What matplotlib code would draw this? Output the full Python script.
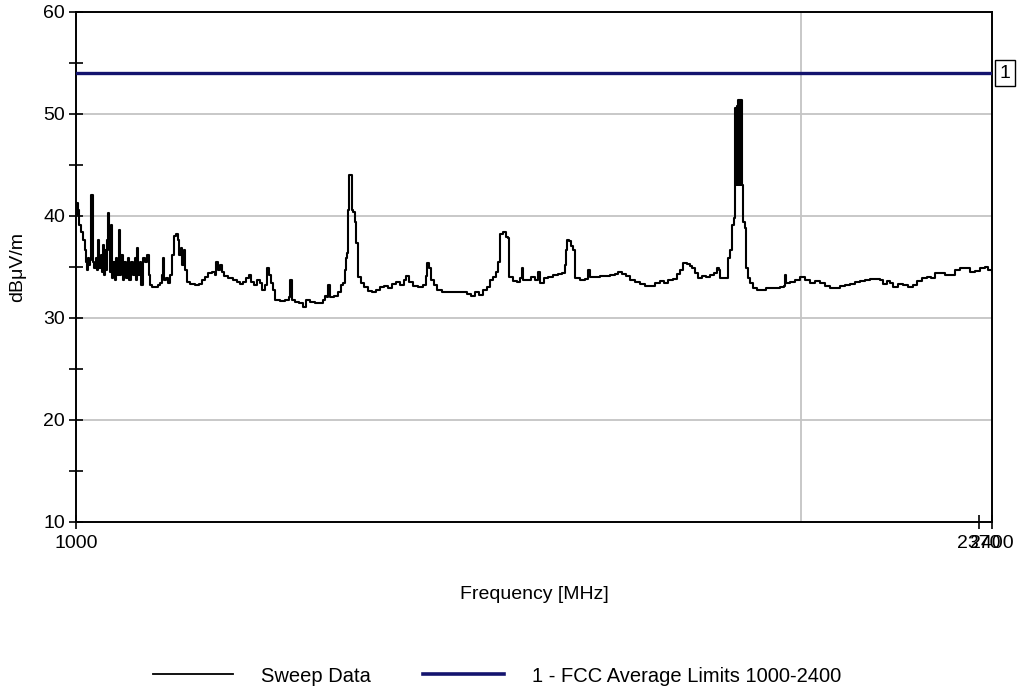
import matplotlib
matplotlib.use("Agg")
import matplotlib.pyplot as plt
from matplotlib.ticker import NullLocator, FixedLocator, FixedFormatter
from matplotlib.lines import Line2D
import matplotlib.transforms as mtransforms

plt.rcParams['font.family'] = ['Liberation Sans', 'DejaVu Sans']

# ---------------- data ----------------
freq_mhz = [
    1000.0, 1001.0, 1001.9, 1002.9, 1004.8, 1006.7, 1008.6, 1009.6, 1010.6, 1011.5,
    1012.5, 1013.5, 1014.4, 1015.4, 1016.4, 1017.3, 1019.3, 1020.3, 1021.2, 1022.2,
    1024.2, 1025.2, 1026.1, 1027.1, 1028.1, 1029.1, 1030.1, 1031.1, 1032.1, 1033.0,
    1034.0, 1035.0, 1036.0, 1038.0, 1039.0, 1040.0, 1042.0, 1043.0, 1044.0, 1046.0,
    1047.0, 1049.0, 1051.0, 1052.0, 1054.1, 1056.1, 1058.1, 1059.1, 1060.1, 1061.2,
    1063.2, 1064.2, 1066.3, 1068.2, 1070.2, 1072.3, 1073.3, 1075.4, 1078.4, 1081.5,
    1083.5, 1085.6, 1086.6, 1087.7, 1089.8, 1091.8, 1093.9, 1096.1, 1098.2, 1100.3,
    1102.4, 1103.5, 1105.6, 1106.6, 1108.7, 1109.8, 1112.0, 1115.0, 1120.4, 1124.7,
    1128.0, 1131.2, 1134.5, 1138.8, 1142.0, 1143.2, 1145.3, 1147.5, 1149.7, 1151.9,
    1156.3, 1161.8, 1166.2, 1169.7, 1173.1, 1176.5, 1179.9, 1182.1, 1185.5, 1188.9,
    1192.2, 1194.6, 1198.1, 1200.4, 1202.7, 1204.9, 1207.2, 1209.5, 1215.2, 1221.0,
    1225.7, 1226.9, 1229.2, 1232.8, 1237.5, 1242.3, 1245.8, 1250.6, 1256.5, 1262.6,
    1266.3, 1268.7, 1271.1, 1272.3, 1274.8, 1279.6, 1284.5, 1288.2, 1290.7, 1293.2,
    1294.4, 1295.7, 1296.9, 1298.2, 1300.6, 1301.9, 1303.1, 1305.6, 1306.9, 1309.4,
    1313.1, 1316.9, 1322.0, 1327.0, 1332.0, 1337.1, 1342.2, 1347.3, 1352.6, 1357.8,
    1363.0, 1368.2, 1370.8, 1374.7, 1379.9, 1386.6, 1393.3, 1397.3, 1398.6, 1401.3,
    1404.0, 1408.0, 1412.0, 1418.8, 1429.7, 1440.6, 1447.5, 1453.1, 1458.7, 1464.3,
    1469.9, 1475.5, 1481.2, 1485.4, 1489.7, 1494.0, 1496.8, 1499.7, 1504.0, 1508.3,
    1511.2, 1512.6, 1518.4, 1524.2, 1528.6, 1531.5, 1533.0, 1538.9, 1544.8, 1550.7,
    1555.1, 1558.1, 1564.1, 1570.1, 1577.6, 1585.1, 1591.2, 1595.7, 1597.2, 1598.8,
    1601.8, 1604.8, 1607.9, 1611.1, 1618.9, 1626.6, 1631.3, 1634.2, 1642.1, 1650.0,
    1657.9, 1665.8, 1673.8, 1678.7, 1685.1, 1691.6, 1698.1, 1706.2, 1714.4, 1722.6,
    1730.9, 1739.2, 1747.5, 1754.1, 1760.8, 1769.3, 1776.1, 1781.2, 1786.3, 1793.1,
    1798.3, 1801.7, 1806.9, 1812.1, 1819.1, 1826.0, 1833.0, 1840.0, 1845.3, 1848.8,
    1850.6, 1855.9, 1864.9, 1868.4, 1872.0, 1875.6, 1877.3, 1878.2, 1879.1, 1880.0,
    1880.9, 1881.8, 1882.7, 1883.6, 1884.5, 1885.4, 1886.3, 1887.2, 1888.1, 1889.0,
    1889.9, 1891.7, 1895.4, 1897.2, 1900.8, 1904.5, 1910.0, 1917.3, 1926.4, 1933.7,
    1941.2, 1950.5, 1959.9, 1967.4, 1969.2, 1971.1, 1978.6, 1988.1, 1997.6, 2007.2,
    2016.7, 2026.3, 2036.0, 2045.8, 2055.7, 2065.5, 2075.4, 2085.4, 2095.4, 2105.4,
    2115.4, 2125.6, 2135.8, 2146.0, 2156.3, 2162.5, 2170.8, 2177.0, 2183.3, 2193.7,
    2204.3, 2214.8, 2225.4, 2234.0, 2244.7, 2255.5, 2264.1, 2272.8, 2283.6, 2294.6,
    2305.6, 2316.6, 2327.6, 2338.7, 2349.9, 2361.3, 2372.6, 2383.9, 2390.7, 2400.0,
]
level_dbuv = [
    40.1, 41.3, 40.6, 39.1, 38.4, 37.6, 36.7, 35.5, 34.7, 35.9,
    35.2, 35.7, 42.1, 42.1, 35.5, 34.9, 35.9, 34.7, 37.6, 34.9,
    36.2, 34.5, 37.2, 34.2, 36.7, 34.7, 37.6, 40.3, 36.7, 34.5,
    39.1, 33.9, 35.5, 33.7, 35.9, 34.2, 38.6, 34.2, 36.2, 33.7,
    35.5, 33.9, 35.9, 33.7, 35.5, 34.2, 35.9, 33.7, 36.9, 34.2,
    35.5, 33.2, 35.9, 35.5, 36.2, 34.2, 33.2, 33.0, 33.0, 33.2,
    33.4, 34.2, 35.9, 33.7, 33.9, 33.4, 34.2, 36.2, 38.0, 38.2,
    37.6, 36.2, 36.9, 35.2, 36.7, 34.7, 33.5, 33.3, 33.2, 33.3,
    33.7, 34.0, 34.4, 34.5, 34.2, 35.5, 34.7, 35.2, 34.5, 34.1,
    33.9, 33.7, 33.5, 33.3, 33.5, 33.9, 34.2, 33.5, 33.2, 33.7,
    33.4, 32.7, 33.2, 34.9, 34.2, 33.4, 32.7, 31.8, 31.7, 31.8,
    32.1, 33.7, 31.8, 31.6, 31.5, 31.1, 31.8, 31.6, 31.5, 31.5,
    31.8, 32.2, 32.1, 33.2, 32.1, 32.2, 32.5, 33.2, 33.4, 34.7,
    35.9, 36.4, 40.6, 44.0, 44.0, 40.6, 40.4, 39.4, 37.4, 34.0,
    33.4, 33.0, 32.6, 32.5, 32.7, 33.0, 33.1, 32.9, 33.3, 33.5,
    33.2, 33.7, 34.1, 33.5, 33.1, 33.0, 33.2, 34.1, 35.4, 34.9,
    33.7, 33.2, 32.7, 32.5, 32.5, 32.5, 32.5, 32.4, 32.2, 32.5,
    32.3, 32.7, 33.0, 33.7, 34.0, 34.5, 35.5, 38.2, 38.4, 37.9,
    37.8, 34.0, 33.6, 33.5, 33.9, 34.9, 33.7, 33.7, 34.0, 33.7,
    34.5, 33.4, 33.9, 34.0, 34.2, 34.3, 34.4, 35.2, 36.7, 37.6,
    37.5, 37.1, 36.7, 33.9, 33.7, 33.8, 34.7, 34.0, 34.0, 34.1,
    34.1, 34.2, 34.3, 34.5, 34.3, 34.1, 33.7, 33.5, 33.3, 33.1,
    33.1, 33.4, 33.6, 33.4, 33.7, 33.8, 34.3, 34.7, 35.4, 35.3,
    35.1, 34.9, 34.4, 33.9, 34.1, 34.0, 34.2, 34.4, 34.9, 34.7,
    33.9, 33.9, 35.9, 36.7, 39.1, 39.8, 43.0, 50.6, 43.0, 50.6,
    43.0, 50.8, 43.0, 51.4, 43.0, 51.4, 43.0, 51.4, 43.0, 51.4,
    43.0, 39.4, 38.8, 34.9, 33.9, 33.4, 32.9, 32.7, 32.7, 32.9,
    32.9, 32.9, 33.0, 33.1, 34.2, 33.4, 33.5, 33.7, 34.0, 33.7,
    33.4, 33.6, 33.4, 33.1, 32.9, 32.9, 33.1, 33.2, 33.3, 33.5,
    33.6, 33.7, 33.8, 33.8, 33.7, 33.3, 33.6, 33.4, 33.0, 33.3,
    33.2, 33.0, 33.2, 33.6, 33.9, 34.0, 33.9, 34.4, 34.4, 34.2,
    34.2, 34.7, 34.9, 34.9, 34.5, 34.6, 34.9, 35.0, 34.7, 34.5,
]
limit_freq = [1000, 2400]
limit_level = [54, 54]
x_ticks = [1000, 2370, 2400]
x_tick_labels = ["1000", "2370", "2400"]
y_ticks = [10, 20, 30, 40, 50, 60]
y_minor = [15, 25, 35, 45, 55]
grid_freq = [2000]
series_names = ["Sweep Data", "1 - FCC Average Limits 1000-2400"]
limit_marker = "1"

# ---------------- figure ----------------
fig = plt.figure(figsize=(10.21, 6.94), dpi=100)
ax = fig.add_axes([76/1021, 1-522/694, (992-76)/1021, (522-12)/694])

grid_c = "#c4c4c4"
ax.set_xscale("log")
ax.set_xlim(1000, 2400)
ax.set_ylim(10, 60)

for yv in y_ticks[1:-1]:
    ax.axhline(yv, color=grid_c, lw=1.3, zorder=1)
for xv in grid_freq:
    ax.axvline(xv, color=grid_c, lw=1.3, zorder=1)

ax.plot(freq_mhz, level_dbuv, color="black", lw=1.5, drawstyle="steps-post", zorder=3)
ax.plot(limit_freq, limit_level, color="#14146e", lw=2.4, zorder=4)

ax.xaxis.set_major_locator(FixedLocator(x_ticks))
ax.xaxis.set_major_formatter(FixedFormatter(x_tick_labels))
ax.xaxis.set_minor_locator(NullLocator())
ax.set_yticks(y_ticks)
ax.set_yticks(y_minor, minor=True)

ax.tick_params(axis="both", which="both", direction="inout", length=10, width=1.2,
               labelsize=14, colors="black")
ax.tick_params(axis="y", which="major", pad=3)
ax.tick_params(axis="x", which="major", pad=4)
for s in ax.spines.values():
    s.set_linewidth(1.4)
    s.set_color("black")

ax.set_xlabel("Frequency [MHz]", fontsize=14, labelpad=25)
ax.set_ylabel("dBμV/m", fontsize=14, labelpad=12)

# limit line marker box on the right
trans = mtransforms.blended_transform_factory(ax.transAxes, ax.transData)
ax.text(1.0 + 13/916, 54, limit_marker, transform=trans, ha="center", va="center",
        fontsize=14, clip_on=False,
        bbox=dict(boxstyle="square,pad=0.22", fc="white", ec="black", lw=1.0))

handles = [Line2D([], [], color="black", lw=1.3),
           Line2D([], [], color="#14146e", lw=2.6)]
fig.legend(handles, series_names, loc="center", bbox_to_anchor=(497/1021, 1-676/694),
           ncol=2, frameon=False, fontsize=14.5, handlelength=4.0, handletextpad=1.4,
           columnspacing=2.6)

fig.savefig("out.png", dpi=100)
